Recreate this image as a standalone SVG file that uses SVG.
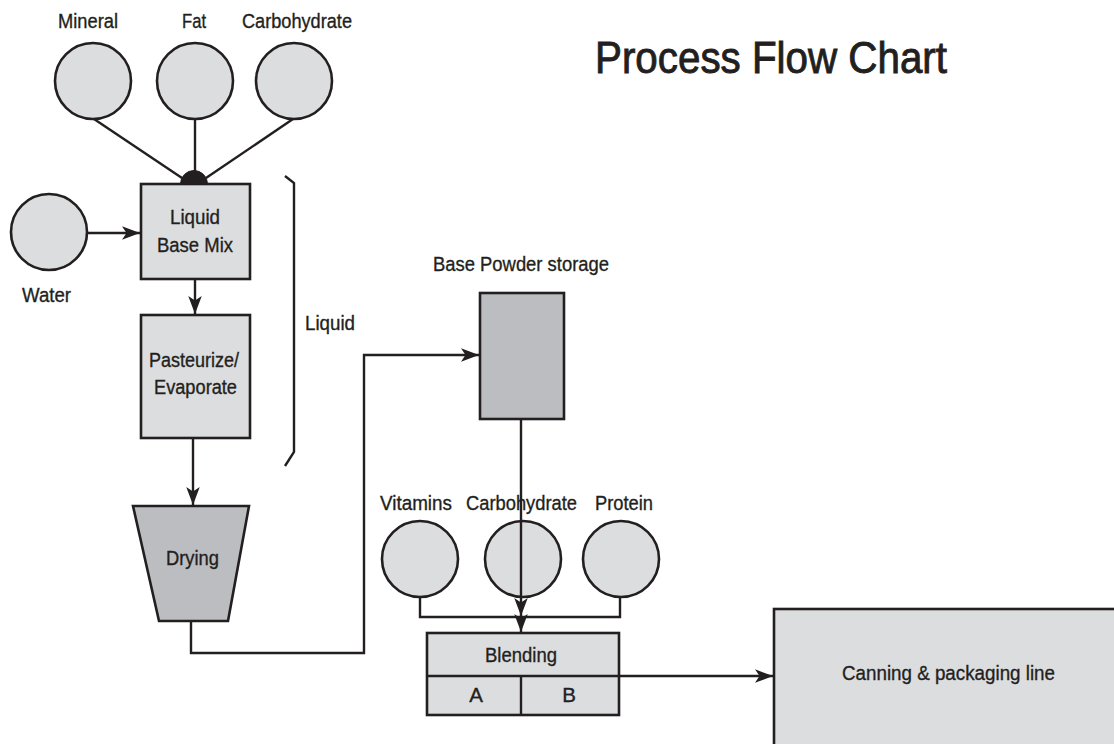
<svg xmlns="http://www.w3.org/2000/svg" width="1114" height="744" viewBox="0 0 1114 744">
  <style>
    .lt { fill: #dcdddf; stroke: #231f20; stroke-width: 2.6; }
    .dk { fill: #bcbdc0; stroke: #231f20; stroke-width: 2.6; }
    .ln { fill: none; stroke: #231f20; stroke-width: 2.4; }
    .t { font-family: "Liberation Sans Narrow", "Liberation Sans", Arial, sans-serif; font-size: 20.5px; fill: #231f20; stroke: #231f20; stroke-width: 0.35; text-anchor: middle; }
    .title { font-family: "Liberation Sans Narrow", "Liberation Sans", Arial, sans-serif; font-size: 44px; fill: #231f20; stroke: #231f20; stroke-width: 0.9; }
  </style>
  <defs>
    <marker id="arrow" markerUnits="userSpaceOnUse" markerWidth="18" markerHeight="14" viewBox="0 0 16 12" refX="16" refY="6" orient="auto">
      <path d="M0,0 L16,6 L0,12 L4,6 z" fill="#231f20"/>
    </marker>
  </defs>
  <rect width="1114" height="744" fill="#ffffff"/>

  <text class="title" x="595" y="73" textLength="352" lengthAdjust="spacingAndGlyphs">Process Flow Chart</text>

  <!-- connectors -->
  <g id="connectors">
    <line class="ln" x1="94" y1="119" x2="182" y2="178"/>
    <line class="ln" x1="195" y1="119" x2="195" y2="172"/>
    <line class="ln" x1="293" y1="119" x2="206" y2="178"/>
    <line class="ln" x1="87" y1="233" x2="140" y2="233" marker-end="url(#arrow)"/>
    <line class="ln" x1="195" y1="280" x2="195" y2="314" marker-end="url(#arrow)"/>
    <line class="ln" x1="193" y1="439" x2="193" y2="505" marker-end="url(#arrow)"/>
    <polyline class="ln" points="191,621 191,653 364,653 364,355 479,355" marker-end="url(#arrow)"/>
    <polyline class="ln" points="420,597 420,617 620,617 620,597"/>
    <line class="ln" x1="619" y1="676" x2="773" y2="676" marker-end="url(#arrow)"/>
    <!-- bracket around the liquid stages -->
    <polyline class="ln" points="285,176 294,183 294,452 285,466"/>
  </g>

  <g id="mineral">
    <circle class="lt" cx="93" cy="81" r="38"/>
    <text class="t" x="88" y="28" textLength="60" lengthAdjust="spacingAndGlyphs">Mineral</text>
  </g>
  <g id="fat">
    <circle class="lt" cx="195" cy="81" r="38"/>
    <text class="t" x="194" y="28" textLength="24" lengthAdjust="spacingAndGlyphs">Fat</text>
  </g>
  <g id="carbohydrate-1">
    <circle class="lt" cx="294" cy="81" r="38"/>
    <text class="t" x="297" y="28" textLength="110" lengthAdjust="spacingAndGlyphs">Carbohydrate</text>
  </g>
  <g id="water">
    <circle class="lt" cx="49" cy="232" r="38"/>
    <text class="t" x="46.5" y="302" textLength="49" lengthAdjust="spacingAndGlyphs">Water</text>
  </g>
  <g id="liquid-base-mix">
    <rect class="lt" x="141" y="184" width="109" height="95"/>
    <path d="M180.5,184 A13.5,13.5 0 0 1 207.5,184 z" fill="#231f20" stroke="#231f20" stroke-width="1"/>
    <text class="t" x="195" y="224" textLength="50" lengthAdjust="spacingAndGlyphs">Liquid</text>
    <text class="t" x="195" y="252" textLength="76" lengthAdjust="spacingAndGlyphs">Base Mix</text>
  </g>
  <g id="pasteurize">
    <rect class="lt" x="141" y="315" width="109" height="123"/>
    <text class="t" x="194" y="367" textLength="90" lengthAdjust="spacingAndGlyphs">Pasteurize/</text>
    <text class="t" x="195.5" y="394" textLength="83" lengthAdjust="spacingAndGlyphs">Evaporate</text>
  </g>
  <g id="liquid-label">
    <text class="t" x="330" y="330" textLength="50" lengthAdjust="spacingAndGlyphs">Liquid</text>
  </g>
  <g id="drying">
    <polygon class="dk" points="133,506 249,506 228,621 159,621"/>
    <text class="t" x="192.5" y="565" textLength="53" lengthAdjust="spacingAndGlyphs">Drying</text>
  </g>
  <g id="base-powder-storage">
    <rect class="dk" x="480" y="293" width="84" height="126"/>
    <text class="t" x="521" y="271" textLength="176" lengthAdjust="spacingAndGlyphs">Base Powder storage</text>
  </g>
  <g id="vitamins">
    <circle class="lt" cx="420" cy="559" r="38"/>
    <text class="t" x="416" y="510" textLength="72" lengthAdjust="spacingAndGlyphs">Vitamins</text>
  </g>
  <g id="carbohydrate-2">
    <circle class="lt" cx="523" cy="559" r="38"/>
    <text class="t" x="521.5" y="510" textLength="111" lengthAdjust="spacingAndGlyphs">Carbohydrate</text>
  </g>
  <g id="protein">
    <circle class="lt" cx="621" cy="559" r="38"/>
    <text class="t" x="624" y="510" textLength="58" lengthAdjust="spacingAndGlyphs">Protein</text>
  </g>

  <!-- storage feed down to the blender, drawn over the carbohydrate tank -->
  <g id="storage-feed">
    <line class="ln" x1="521" y1="419" x2="521" y2="616" marker-end="url(#arrow)"/>
    <line class="ln" x1="521" y1="616" x2="521" y2="632" marker-end="url(#arrow)"/>
  </g>

  <g id="blending">
    <rect class="lt" x="427" y="633" width="192" height="82"/>
    <line class="ln" x1="427" y1="676" x2="619" y2="676"/>
    <line class="ln" x1="521" y1="676" x2="521" y2="715"/>
    <text class="t" x="521" y="662" textLength="72" lengthAdjust="spacingAndGlyphs">Blending</text>
    <text class="t" x="476" y="702">A</text>
    <text class="t" x="569" y="702">B</text>
  </g>
  <g id="canning">
    <rect class="lt" x="774" y="609" width="400" height="200"/>
    <text class="t" x="948.5" y="680" textLength="213" lengthAdjust="spacingAndGlyphs">Canning &amp; packaging line</text>
  </g>
</svg>
